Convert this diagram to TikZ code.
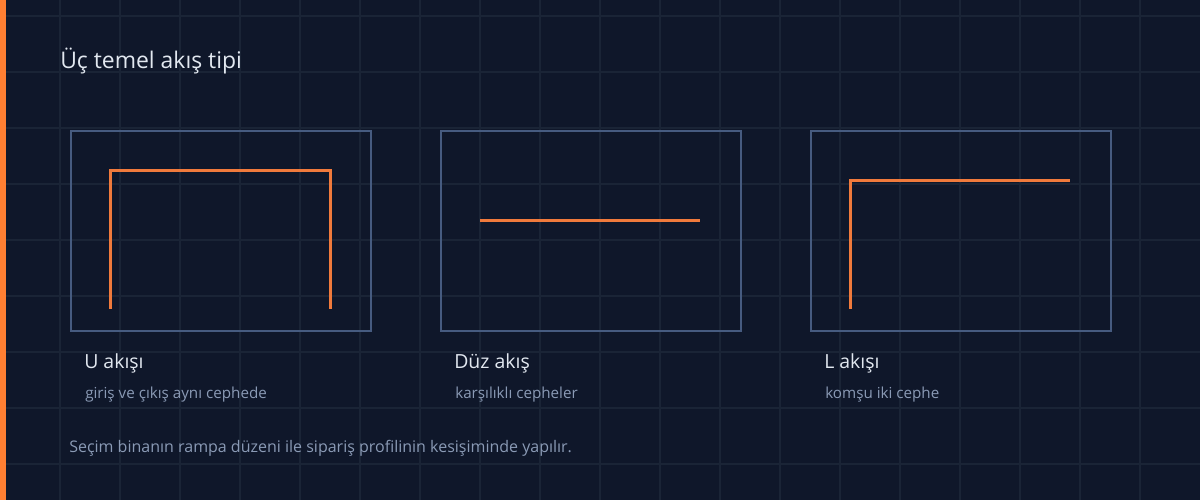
\documentclass[tikz,border=0pt]{standalone}
\usepackage{fontspec}
\setmainfont{Open Sans}
\definecolor{bg}{HTML}{0F172A}
\definecolor{gridc}{HTML}{1A2436}
\definecolor{accent}{HTML}{FF7F32}
\definecolor{flow}{HTML}{F07A3C}
\definecolor{boxc}{HTML}{465B80}
\definecolor{titlec}{HTML}{E2E8F0}
\definecolor{subc}{HTML}{8A9AB5}
\tikzset{
  panel/.style={draw=boxc, line width=1.5pt*0.75, minimum width=300*0.75pt, minimum height=200*0.75pt, inner sep=0pt, anchor=north west},
  flowline/.style={draw=flow, line width=2.25pt, line cap=butt, line join=miter},
  titletext/.style={anchor=base west, inner sep=0pt, text=titlec, font=\fontsize{17.2pt}{20pt}\selectfont},
  labeltext/.style={anchor=base west, inner sep=0pt, text=titlec, font=\fontsize{14.6pt}{17pt}\selectfont},
  subtext/.style={anchor=base west, inner sep=0pt, text=subc, font=\fontsize{11.4pt}{14pt}\selectfont},
  foottext/.style={anchor=base west, inner sep=0pt, text=subc, font=\fontsize{12pt}{14pt}\selectfont},
}
\begin{document}
\begin{tikzpicture}[x=0.75pt, y=-0.75pt]
\useasboundingbox (0,0) rectangle (1200,500);
\fill[bg] (0,0) rectangle (1200,500);
% grid
\foreach \gx in {60,120,...,1140} \draw[gridc, line width=1.5pt] (\gx,0) -- (\gx,500);
\foreach \gy in {15.5,71.5,...,470} \draw[gridc, line width=1.5pt] (0,\gy) -- (1200,\gy);
% accent bar
\fill[accent] (0,0) rectangle (6,500);
% title
\node[titletext] (title) at (60,68) {Üç temel akış tipi};
% panels
\node[panel] (p1) at (70,130) {};
\node[panel] (p2) at (440,130) {};
\node[panel] (p3) at (810,130) {};
% U flow
\coordinate (u1) at (110,309);
\coordinate (u2) at (110,170);
\coordinate (u3) at (330,170);
\coordinate (u4) at (330,309);
\draw[flowline] (u1) -- (u2) -- (u3) -- (u4);
% straight flow
\coordinate (d1) at (480,220);
\coordinate (d2) at (700,220);
\draw[flowline] (d1) -- (d2);
% L flow
\coordinate (l1) at (850,309);
\coordinate (l2) at (850,180);
\coordinate (l3) at (1070,180);
\draw[flowline] (l1) -- (l2) -- (l3);
% labels
\node[labeltext] (n1) at (84,368) {U akışı};
\node[subtext] (s1) at (85,398) {giriş ve çıkış aynı cephede};
\node[labeltext] (n2) at (454,368) {Düz akış};
\node[subtext] (s2) at (455,398) {karşılıklı cepheler};
\node[labeltext] (n3) at (824,368) {L akışı};
\node[subtext] (s3) at (825,398) {komşu iki cephe};
% footer
\node[foottext] (foot) at (69,452) {Seçim binanın rampa düzeni ile sipariş profilinin kesişiminde yapılır.};
\end{tikzpicture}
\end{document}
